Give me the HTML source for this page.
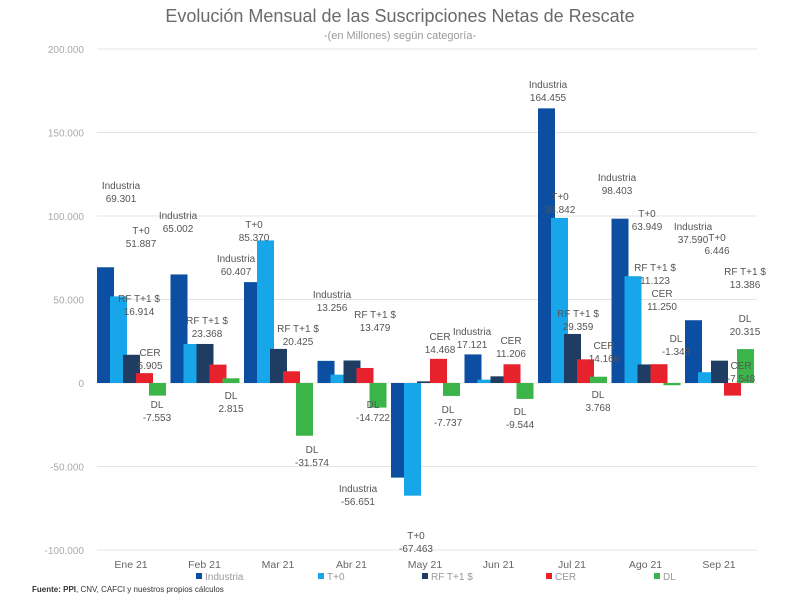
<!DOCTYPE html>
<html><head><meta charset="utf-8"><style>
body{margin:0;background:#fff;}
svg{display:block;font-family:"Liberation Sans",sans-serif;}
</style></head><body>
<svg id="chart" width="800" height="604">
<text x="400" y="22" text-anchor="middle" font-size="18" fill="#6a6a6a">Evolución Mensual de las Suscripciones Netas de Rescate</text>
<text x="400" y="39" text-anchor="middle" font-size="11" fill="#999">-(en Millones) según categoría-</text>
<g id="grid"></g><g id="bars"></g><g id="labels"></g><g id="legend"></g>
<text x="32" y="592" font-size="8" fill="#333"><tspan font-weight="bold">Fuente: PPI</tspan>, CNV, CAFCI y nuestros propios cálculos</text>
</svg>
<script>
const categories=["Ene 21","Feb 21","Mar 21","Abr 21","May 21","Jun 21","Jul 21","Ago 21","Sep 21"];
const seriesNames=["Industria","T+0","RF T+1 $","CER","DL"];
const industria=[69301,65002,60407,13256,-56651,17121,164455,98403,37590];
const tplus0=[51887,23368,85370,5000,-67463,2000,98842,63949,6446];
const rft1=[16914,23368,20425,13479,1000,4000,29359,11123,13386];
const cer=[5905,11000,7000,9000,14468,11206,14166,11250,-7548];
const dl=[-7553,2815,-31574,-14722,-7737,-9544,3768,-1348,20315];
const yTicks=[200000,150000,100000,50000,0,-50000,-100000];
const yTickLabels=["200.000","150.000","100.000","50.000","0","-50.000","-100.000"];
const colors=["#0b4ea2","#17a6ea","#1f3d63","#e8222c","#3bb54a"];
const series=[industria,tplus0,rft1,cer,dl];
// label text shown per series (null = no label)
const showLabel=[[1,1,1,1,1,1,1,1,1],[1,0,1,0,1,0,1,1,1],[1,1,1,1,0,0,1,1,1],[1,0,0,0,1,1,1,1,1],[1,1,1,1,1,1,1,1,1]];
const labelPos=[
 [[121,185],[178,215],[236,258],[332,294],[358,488],[472,331],[548,84],[617,177],[693,226]],
 [[141,230],null,[254,224],null,[416,535],null,[560,196],[647,213],[717,237]],
 [[139,298],[207,320],[298,328],[375,314],null,null,[578,313],[655,267],[745,271]],
 [[150,352],null,null,null,[440,336],[511,340],[604,345],[662,293],[741,365]],
 [[157,404],[231,395],[312,449],[373,404],[448,409],[520,411],[598,394],[676,338],[745,318]]];
function y(v){return 383-v*(83.5/50000);}
function x(i,s){return 97+i*73.5+s*13;}
const NS="http://www.w3.org/2000/svg";
function mk(tag,attrs,parent){const e=document.createElementNS(NS,tag);for(const k in attrs)e.setAttribute(k,attrs[k]);parent.appendChild(e);return e;}
function fmt(v){const s=Math.abs(v).toString().replace(/\B(?=(\d{3})+(?!\d))/g,".");return (v<0?"-":"")+s;}
const grid=document.getElementById("grid"),bars=document.getElementById("bars"),labels=document.getElementById("labels"),legend=document.getElementById("legend");
yTicks.forEach((t,i)=>{
 const l=mk("line",{x1:97,x2:757,y1:y(t),y2:y(t),stroke:"#e4e4e4","stroke-width":1},grid);
 
 
 const tx=mk("text",{x:84,y:y(t)+4,"text-anchor":"end","font-size":"10",fill:"#aaa"},grid);
 tx.textContent=yTickLabels[i];
 
 
});
categories.forEach((c,i)=>{
 const tx=mk("text",{x:x(i,0)+34,y:568,"text-anchor":"middle","font-size":"10.5",fill:"#666"},grid);
 tx.textContent=c;
 
 
});
series.forEach((arr,s)=>{
 arr.forEach((v,i)=>{
  const r=mk("rect",{x:x(i,s),y:Math.min(y(v),y(0)),width:17,height:Math.abs(y(v)-y(0)),fill:colors[s]},bars);
  
  
  const p=labelPos[s][i];
  if(showLabel[s][i]&&p){
   const t1=mk("text",{x:p[0],y:p[1]+4,"text-anchor":"middle","font-size":"10",fill:"#555"},labels);
   t1.textContent=seriesNames[s];
   
   
   const t2=mk("text",{x:p[0],y:p[1]+17,"text-anchor":"middle","font-size":"10",fill:"#555"},labels);
   t2.textContent=fmt(v);
   
   
  }
 });
});
const legX=[196,318,422,546,654];
seriesNames.forEach((n,s)=>{
 const r=mk("rect",{x:legX[s],y:573,width:6,height:6,fill:colors[s]},legend);
 
 
 const t=mk("text",{x:legX[s]+9,y:580,"font-size":"10",fill:"#999"},legend);
 t.textContent=n;
 
 
});
</script>
</body></html>
